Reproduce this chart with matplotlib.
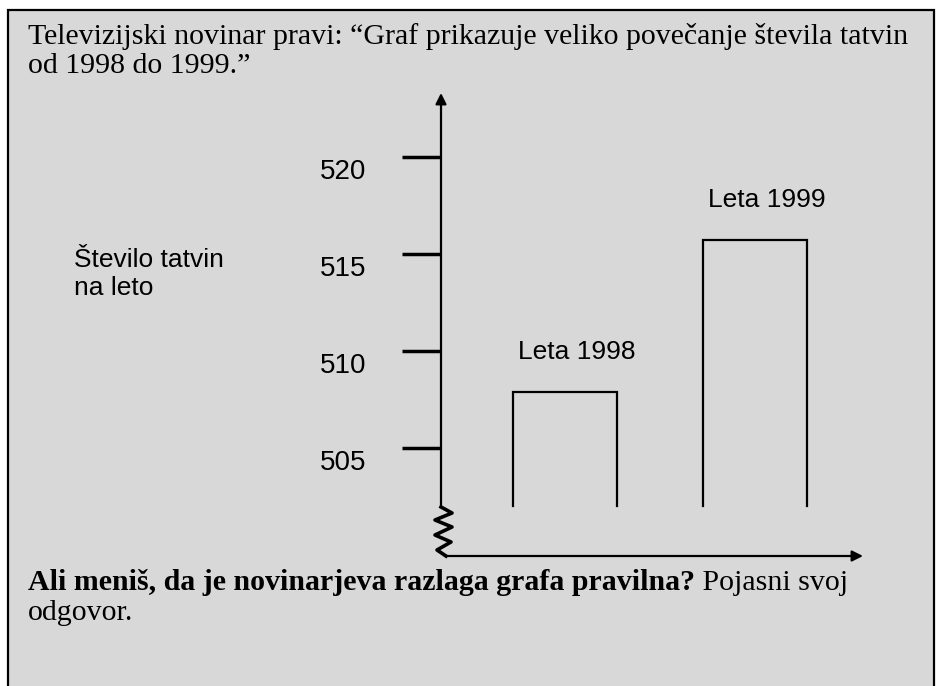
import matplotlib
matplotlib.use('Agg')
import matplotlib.pyplot as plt
import matplotlib.transforms as mtransforms
from matplotlib.patches import Rectangle

# data
years = ['Leta 1998', 'Leta 1999']
robberies = [507.9, 515.7]
bar_base = 502
yticks = [505, 510, 515, 520]

title_lines = ['Televizijski novinar pravi: \u201cGraf prikazuje veliko pove\u010danje \u0161tevila tatvin',
               'od 1998 do 1999.\u201d']
ylabel = '\u0160tevilo tatvin\nna leto'
question_bold = 'Ali meni\u0161, da je novinarjeva razlaga grafa pravilna?'
question_rest = ' Pojasni svoj'
question_line2 = 'odgovor.'

W, H = 938, 686
fig = plt.figure(figsize=(W / 100, H / 100), dpi=100, facecolor='white')

# background in pixel coords
bg = fig.add_axes([0, 0, 1, 1])
bg.set_xlim(0, W)
bg.set_ylim(H, 0)
bg.axis('off')
bg.add_patch(Rectangle((8, 10), 926, 690, facecolor='#d8d8d8', edgecolor='black', lw=1.6))

serif = 'Liberation Serif'
sans = 'Liberation Sans'
fs_serif = 21.5
bg.text(28, 37, title_lines[0], va='center', ha='left', family=serif, fontsize=fs_serif)
bg.text(28, 66, title_lines[1], va='center', ha='left', family=serif, fontsize=fs_serif)
bg.text(74, 274, ylabel, va='center', ha='left', family=sans, fontsize=19, linespacing=1.25)

t1 = bg.text(28, 583, question_bold, va='center', ha='left', family=serif, fontsize=fs_serif, fontweight='bold')
bg.annotate(question_rest, xy=(1, 0), xycoords=t1, va='bottom', ha='left', family=serif, fontsize=fs_serif)
bg.text(28, 613, question_line2, va='center', ha='left', family=serif, fontsize=fs_serif)

# chart axes
x0, x1, ytop, ybot = 441, 863, 93, 556
ax = fig.add_axes([x0 / W, 1 - ybot / H, (x1 - x0) / W, (ybot - ytop) / H])
ax.patch.set_visible(False)
ax.set_ylim(499.43, 523.3)
ax.set_xlim(-0.653, 1.568)
for s in ax.spines.values():
    s.set_visible(False)
ax.set_xticks([])
ax.set_yticks(yticks)
ax.tick_params(axis='y', length=28, width=2.5, direction='out', labelleft=False, color='black')

# vertical axis with arrow
ax.annotate('', xy=(0, 523.3), xytext=(0, bar_base), xycoords=('axes fraction', 'data'),
            textcoords=('axes fraction', 'data'),
            arrowprops=dict(arrowstyle='-|>', lw=1.6, color='black', mutation_scale=16, shrinkA=0, shrinkB=0))
# horizontal axis with arrow
ax.annotate('', xy=(1, 0), xytext=(0.009, 0), xycoords='axes fraction',
            arrowprops=dict(arrowstyle='-|>', lw=1.6, color='black', mutation_scale=16, shrinkA=0, shrinkB=0))

# axis break zigzag
zx = [441, 452, 435, 452, 435, 451, 437, 446]
zy = [507, 513, 520, 527, 535, 542, 550, 556]
bg.plot(zx, zy, color='black', lw=2.6, solid_joinstyle='round')

# tick labels under each tick
tl_trans = mtransforms.blended_transform_factory(bg.transData, ax.transData)
tl_trans = mtransforms.offset_copy(tl_trans, fig=fig, y=-15, units='dots')
for v in yticks:
    ax.text(343, v, str(v), transform=tl_trans, ha='center', va='center', family=sans, fontsize=20)

# open-bottom bars
bw = 0.547
for i, (lab, v) in enumerate(zip(years, robberies)):
    xs = [i - bw / 2, i - bw / 2, i + bw / 2, i + bw / 2]
    ys = [bar_base, v, v, bar_base]
    ax.plot(xs, ys, color='black', lw=1.6, solid_joinstyle='miter')
    ax.annotate(lab, xy=(i, v), xytext=(12, 40), textcoords='offset pixels', ha='center',
                va='center', family=sans, fontsize=19)

fig.savefig('out.png', dpi=100, facecolor=fig.get_facecolor())
